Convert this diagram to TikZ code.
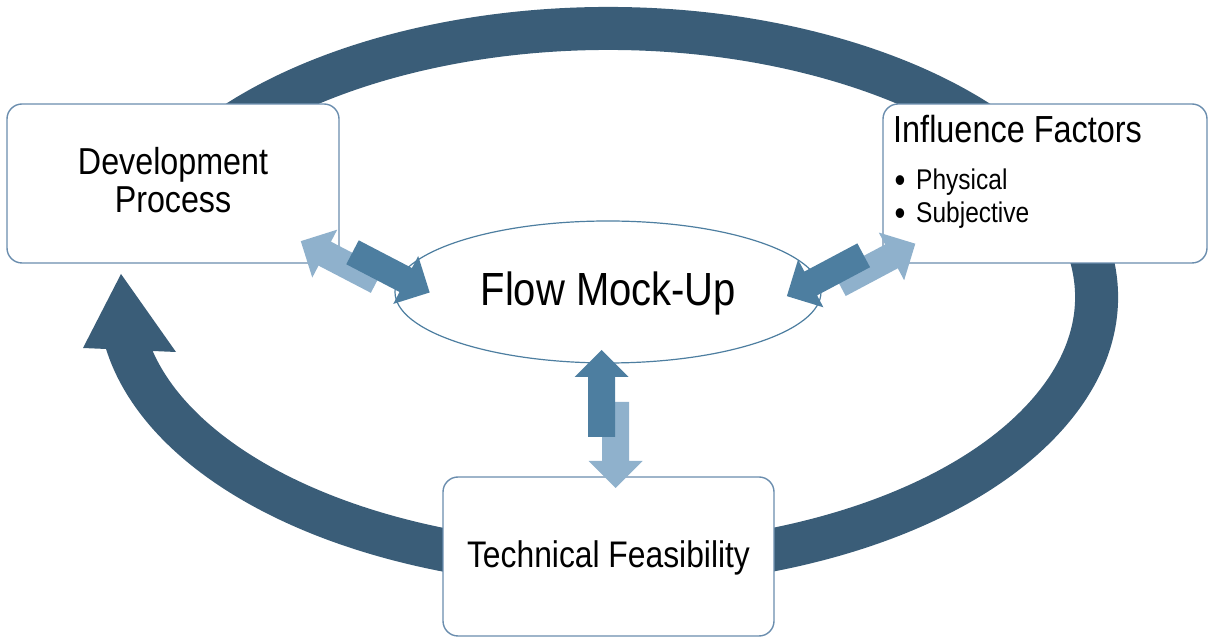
\documentclass[tikz,border=0pt]{standalone}
\usepackage{fontspec}
\setmainfont{Liberation Sans}[FakeStretch=0.86]
\usetikzlibrary{shapes.geometric,calc}

\definecolor{ringblue}{HTML}{3A5D78}
\definecolor{darkarrow}{HTML}{4D7EA0}
\definecolor{lightarrow}{HTML}{8FB1CC}
\definecolor{boxline}{HTML}{6A8DAE}
\definecolor{ellline}{HTML}{4D7EA0}

\tikzset{
  panel/.style={draw=boxline, line width=1.4pt, fill=white, rounded corners=15pt,
    inner sep=0pt, minimum height=159pt},
  label/.style={inner sep=0pt, text=black},
  % a pair of opposed block arrows: dark one forward, light one back
  pics/duo/.style={code={
    \fill[lightarrow] (35,-0.5) -- (-24,-0.5) -- (-24,13) -- (-51,-14)
      -- (-24,-41) -- (-24,-27.5) -- (35,-27.5) -- cycle;
    \fill[darkarrow] (0,13.5) -- (60,13.5) -- (60,27) -- (87,0)
      -- (60,-27) -- (60,-13.5) -- (0,-13.5) -- cycle;
  }}
}

\begin{document}
\begin{tikzpicture}[x=1pt,y=1pt]
\useasboundingbox (0,0) rectangle (1208,637);

% circular process band with its head
\draw[ringblue, line width=43pt]
  ($(608,340)+(154.2:488.5 and 268.5)$) arc[start angle=154.2, end angle=-172,
  x radius=488.5, y radius=268.5];
\fill[ringblue] (83,289) -- (121,363) -- (176,285) -- cycle;

% boxes
\node[panel, minimum width=332pt] (dev) at (173,453.5) {};
\node[panel, minimum width=324pt] (inf) at (1045,453.5) {};
\node[panel, minimum width=331pt] (tech) at (608.5,80.5) {};
\node[draw=ellline, line width=1.2pt, fill=white, ellipse, inner sep=0pt,
  minimum width=426pt, minimum height=142pt] (flow) at (608,345) {};

% texts
\node[label, anchor=base, font=\fontsize{37.5}{38}\selectfont] (devA) at (173,462) {Development};
\node[label, anchor=base, font=\fontsize{37.5}{38}\selectfont] (devB) at (173,424) {Process};
\node[label, anchor=base west, font=\fontsize{37.7}{38}\selectfont] (infT) at (893,494) {Influence Factors};
\node[label, anchor=base, font=\fontsize{36}{36}\selectfont] (bulA) at (900,444) {•};
\node[label, anchor=base west, font=\fontsize{28.5}{30}\selectfont] (infA) at (916,447) {Physical};
\node[label, anchor=base, font=\fontsize{36}{36}\selectfont] (bulB) at (900,411) {•};
\node[label, anchor=base west, font=\fontsize{28.5}{30}\selectfont] (infB) at (916,414) {Subjective};
\node[label, anchor=base, font=\fontsize{46.5}{47}\selectfont] (flowT) at (608.4,331.3) {Flow Mock-Up};
\node[label, anchor=base, font=\fontsize{37}{38}\selectfont] (techT) at (608.5,69) {Technical Feasibility};

% exchange arrows between the mock-up and the boxes
\pic[rotate=90] (vpair) at (601.5,200) {duo};
\pic[rotate=-27.5] (lpair) at (352.5,384.7) {duo};
\pic[rotate=208, yscale=-1] (rpair) at (863.7,381.7) {duo};
\end{tikzpicture}
\end{document}
